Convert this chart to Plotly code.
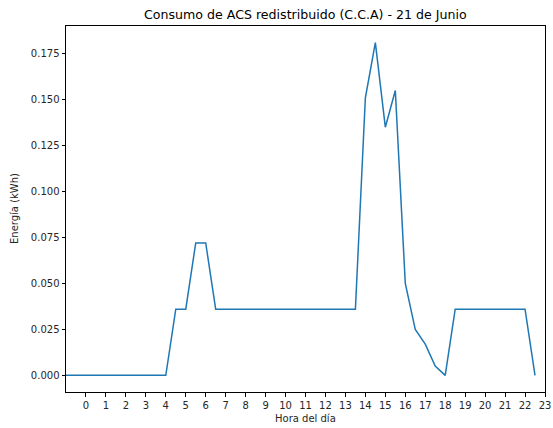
import plotly.graph_objects as go

# Half-hourly samples (hour of day)
hours = [-1.0, -0.5, 0.0, 0.5, 1.0, 1.5, 2.0, 2.5, 3.0, 3.5, 4.0, 4.5,
         5.0, 5.5, 6.0, 6.5, 7.0, 7.5, 8.0, 8.5, 9.0, 9.5, 10.0, 10.5,
         11.0, 11.5, 12.0, 12.5, 13.0, 13.5, 14.0, 14.5, 15.0, 15.5, 16.0, 16.5,
         17.0, 17.5, 18.0, 18.5, 19.0, 19.5, 20.0, 20.5, 21.0, 21.5, 22.0, 22.5]
energy = [0.0, 0.0, 0.0, 0.0, 0.0, 0.0, 0.0, 0.0, 0.0, 0.0, 0.0, 0.036,
          0.036, 0.072, 0.072, 0.036, 0.036, 0.036, 0.036, 0.036, 0.036, 0.036, 0.036, 0.036,
          0.036, 0.036, 0.036, 0.036, 0.036, 0.036, 0.151, 0.181, 0.135, 0.155, 0.050, 0.025,
          0.017, 0.005, 0.0, 0.036, 0.036, 0.036, 0.036, 0.036, 0.036, 0.036, 0.036, 0.0]

x_ticks = list(range(0, 24))
y_ticks = [0.0, 0.025, 0.05, 0.075, 0.1, 0.125, 0.15, 0.175]

title = "Consumo de ACS redistribuido (C.C.A) - 21 de Junio"
x_label = "Hora del día"
y_label = "Energía (kWh)"

W, H = 553, 428
L, R, T, B = 66, 8, 26, 36

fig = go.Figure()
fig.add_trace(go.Scatter(x=hours, y=energy, mode="lines",
                         line=dict(color="#1f77b4", width=1.5)))

font = "DejaVu Sans, sans-serif"
axis_common = dict(showline=True, mirror=True, linecolor="black", linewidth=1,
                   ticks="outside", ticklen=3.5, tickwidth=0.8, tickcolor="black",
                   showgrid=False, zeroline=False, automargin=False,
                   tickfont=dict(family=font, size=10, color="#262626"))

fig.update_layout(
    width=W, height=H,
    margin=dict(l=L, r=R, t=T, b=B, autoexpand=False),
    paper_bgcolor="white", plot_bgcolor="white",
    showlegend=False,
    xaxis=dict(range=[-1, 23], tickvals=x_ticks, ticktext=[str(t) for t in x_ticks],
               **axis_common),
    yaxis=dict(range=[-0.00905, 0.19005], tickvals=y_ticks, tickformat=".3f",
               **axis_common),
    annotations=[
        dict(text=title, xref="paper", yref="paper", x=0.5, y=1,
             yshift=12, xanchor="center", yanchor="middle", showarrow=False,
             font=dict(family=font, size=12.6, color="black")),
        dict(text=x_label, xref="paper", yref="paper", x=0.5, y=0,
             yshift=-26, xanchor="center", yanchor="middle", showarrow=False,
             font=dict(family=font, size=10, color="#262626")),
        dict(text=y_label, xref="paper", yref="paper", x=0, y=0.5,
             xshift=-52, xanchor="center", yanchor="middle", showarrow=False,
             textangle=-90,
             font=dict(family=font, size=10, color="#262626")),
    ],
)

fig.write_html("out.html", config={"displayModeBar": False},
               post_script="document.body.style.margin='0px';document.body.style.overflow='hidden';")
